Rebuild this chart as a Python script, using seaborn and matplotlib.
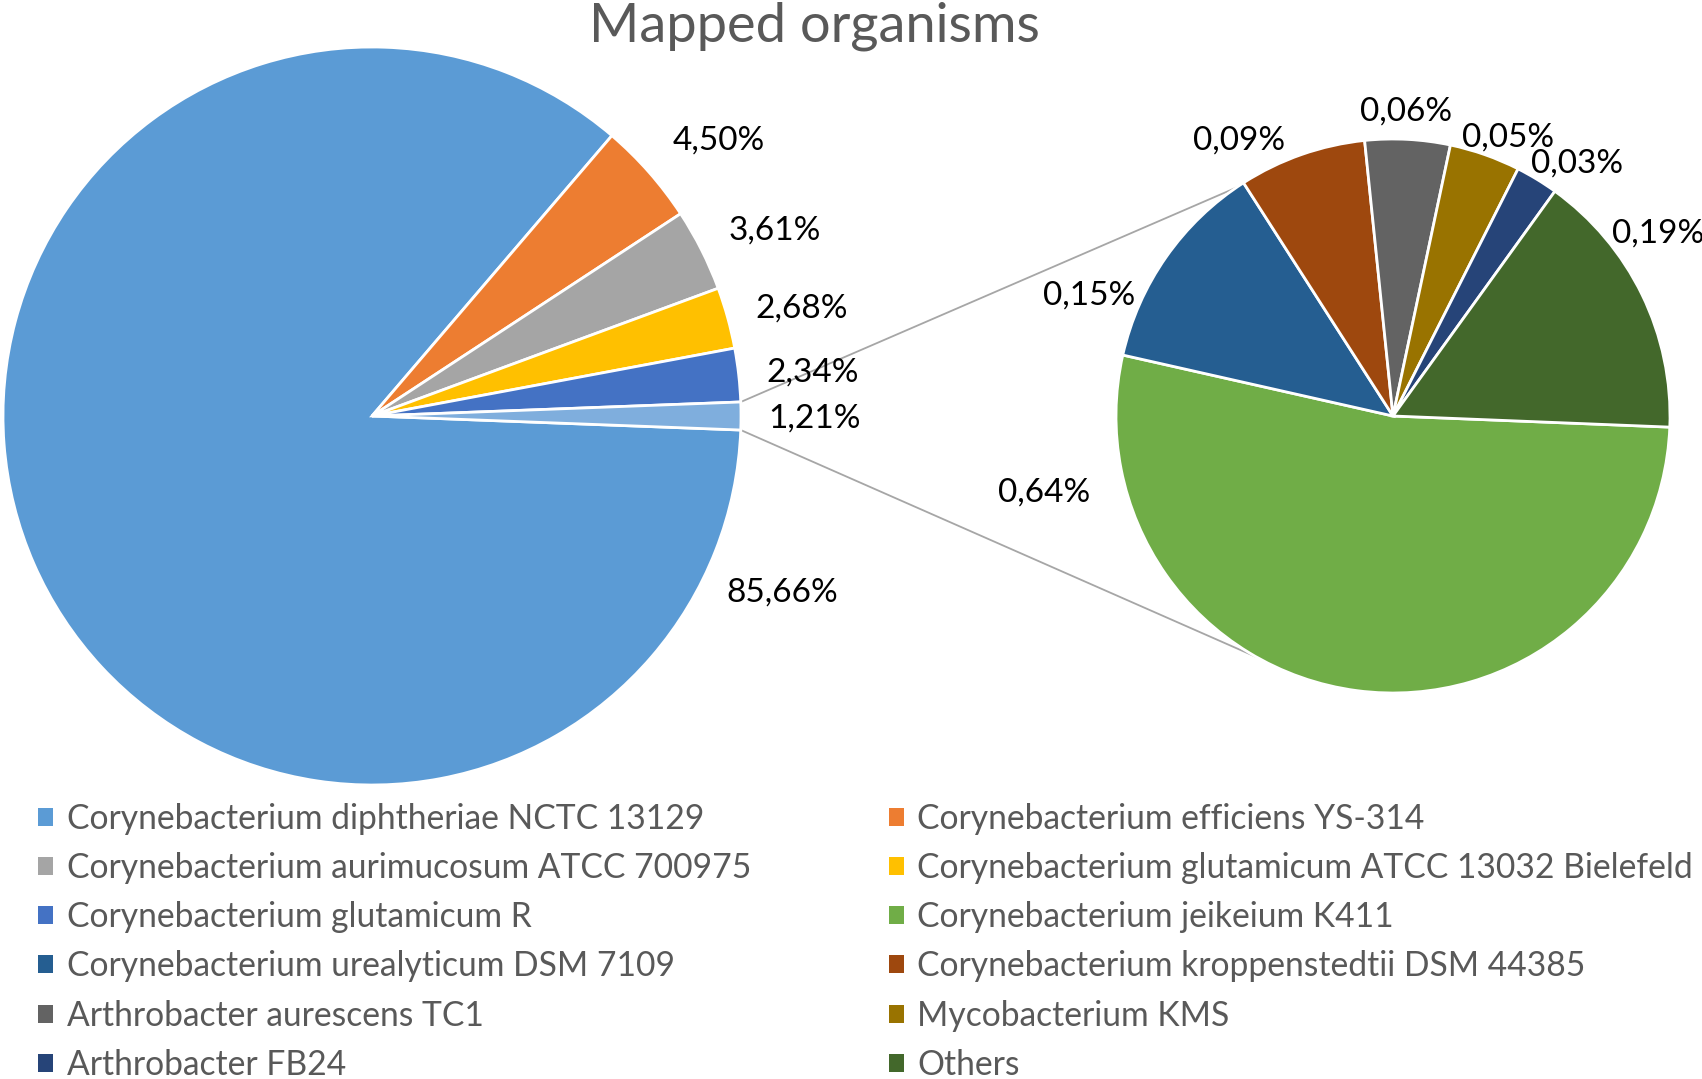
import matplotlib
matplotlib.use("Agg")
import matplotlib.pyplot as plt
import seaborn as sns
import numpy as np

# ---------------- data ----------------
main_labels = [
    "Corynebacterium diphtheriae NCTC 13129",
    "Corynebacterium efficiens YS-314",
    "Corynebacterium aurimucosum ATCC 700975",
    "Corynebacterium glutamicum ATCC 13032 Bielefeld",
    "Corynebacterium glutamicum R",
]
main_values = [85.66, 4.50, 3.61, 2.68, 2.34]
other_total = 1.21
other_text = "1,21%"

sub_labels = [
    "Corynebacterium jeikeium K411",
    "Corynebacterium urealyticum DSM 7109",
    "Corynebacterium kroppenstedtii DSM 44385",
    "Arthrobacter aurescens TC1",
    "Mycobacterium KMS",
    "Arthrobacter FB24",
    "Others",
]
sub_values = [0.64, 0.15, 0.09, 0.06, 0.05, 0.03, 0.19]

legend_order = [
    "Corynebacterium diphtheriae NCTC 13129",
    "Corynebacterium efficiens YS-314",
    "Corynebacterium aurimucosum ATCC 700975",
    "Corynebacterium glutamicum ATCC 13032 Bielefeld",
    "Corynebacterium glutamicum R",
    "Corynebacterium jeikeium K411",
    "Corynebacterium urealyticum DSM 7109",
    "Corynebacterium kroppenstedtii DSM 44385",
    "Arthrobacter aurescens TC1",
    "Mycobacterium KMS",
    "Arthrobacter FB24",
    "Others",
]

title = "Mapped organisms"

# ---------------- style ----------------
main_colors = ["#5B9BD5", "#ED7D31", "#A5A5A5", "#FFC000", "#4472C4"]
other_color = "#7FAEDD"
sub_colors = ["#70AD47", "#255E91", "#9E480E", "#636363", "#997300", "#264478", "#43682B"]

sns.set_theme(style="white")
plt.rcParams["font.family"] = ["Lato", "DejaVu Sans"]

W, H = 1702, 1079
fig = plt.figure(figsize=(W / 100, H / 100), dpi=100)
ax = fig.add_axes([0, 0, 1, 1])

# layout (pixel space, y up)
left_c, left_r = (372, H - 416), 369
right_c, right_r = (1393, H - 416), 277
left_label_polar = [(-23.3, 1.21), (38.4, 1.20), (24.7, 1.20), (14.0, 1.20), (5.6, 1.20), (-0.3, 1.20)]
right_label_polar = [(192.3, 1.29), (158.3, 1.18), (119.1, 1.14), (87.6, 1.10), (67.5, 1.09), (53.9, 1.13), (34.5, 1.16)]
connector_angles = (124.5, 240.5)

wedge_kw = dict(edgecolor="white", linewidth=2.0)
left_vals = main_values + [other_total]
lw, _ = ax.pie(left_vals, colors=main_colors + [other_color], center=left_c, radius=left_r,
               startangle=-other_total * 1.8, counterclock=False, wedgeprops=wedge_kw)
rw, _ = ax.pie(sub_values, colors=sub_colors, center=right_c, radius=right_r,
               startangle=-2.3, counterclock=False, wedgeprops=wedge_kw)

def fmt(v):
    return f"{v:.2f}%".replace(".", ",")

label_fs = 24
left_texts = [fmt(v) for v in main_values] + [other_text]
for t, (a, f) in zip(left_texts, left_label_polar):
    x = left_c[0] + f * left_r * np.cos(np.radians(a))
    y = left_c[1] + f * left_r * np.sin(np.radians(a))
    ax.text(x, y, t, ha="center", va="center", fontsize=label_fs, color="black")
for v, (a, f) in zip(sub_values, right_label_polar):
    x = right_c[0] + f * right_r * np.cos(np.radians(a))
    y = right_c[1] + f * right_r * np.sin(np.radians(a))
    ax.text(x, y, fmt(v), ha="center", va="center", fontsize=label_fs, color="black")

# connector lines from the aggregated slice to the secondary pie
ow = lw[-1]
for ang_l, ang_r in zip((ow.theta1, ow.theta2)[::-1], connector_angles):
    x0 = left_c[0] + left_r * np.cos(np.radians(ang_l))
    y0 = left_c[1] + left_r * np.sin(np.radians(ang_l))
    x1 = right_c[0] + right_r * np.cos(np.radians(ang_r))
    y1 = right_c[1] + right_r * np.sin(np.radians(ang_r))
    ax.plot([x0, x1], [y0, y1], color="#A6A6A6", linewidth=1.3, zorder=0)

ax.set_xlim(0, W)
ax.set_ylim(0, H)
ax.set_aspect("equal")
ax.axis("off")

ax.text(814, H - 26, title, ha="center", va="center", fontsize=39, color="#595959")

# legend (row-major in reference -> reorder for column-major fill)
handle_map = {}
for w, lab in zip(lw[:-1], main_labels):
    handle_map[lab] = w
for w, lab in zip(rw, sub_labels):
    handle_map[lab] = w
ordered = legend_order[0::2] + legend_order[1::2]
handles = [handle_map[l] for l in ordered]
leg = fig.legend(handles, ordered, loc="upper left", bbox_to_anchor=(38 / W, 1 - 803 / H),
                 ncol=2, frameon=False, fontsize=24.2, handlelength=0.45, handleheight=0.45,
                 handletextpad=0.4, borderpad=0, borderaxespad=0, labelspacing=0.51,
                 columnspacing=4.1, labelcolor="#595959")
for h in leg.legend_handles:
    h.set_edgecolor("none")

fig.savefig("out.png", dpi=100)
